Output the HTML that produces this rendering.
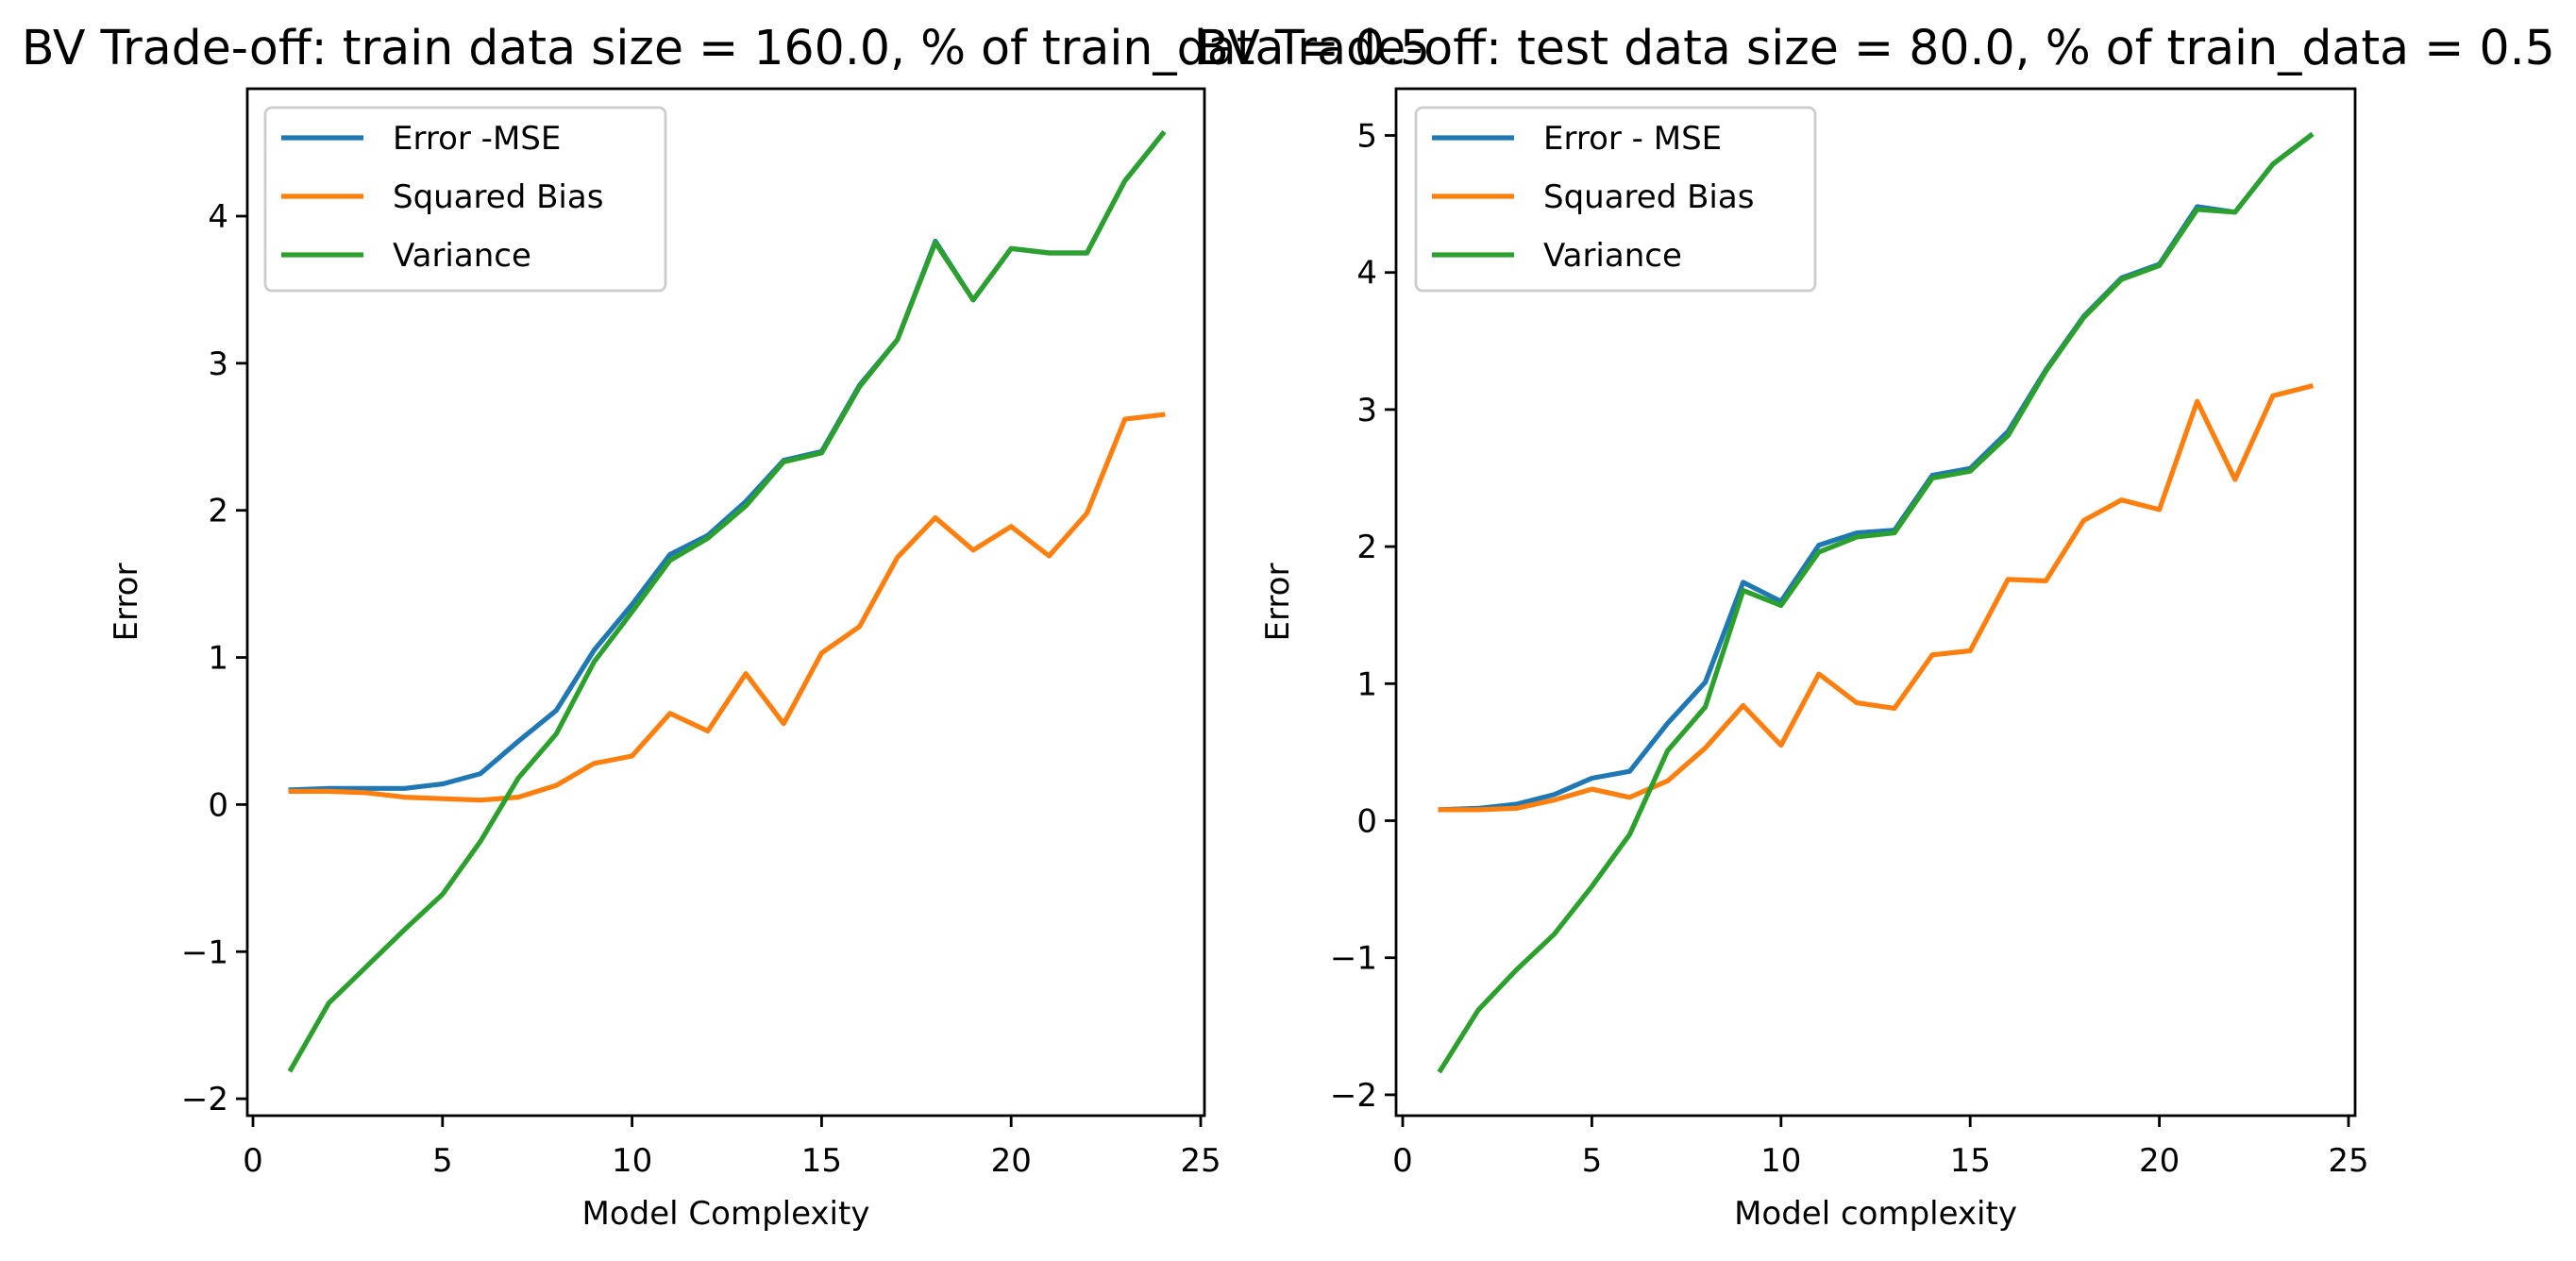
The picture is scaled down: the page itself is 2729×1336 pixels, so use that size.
<!DOCTYPE html>
<html><head><meta charset="utf-8"><style>
html,body{margin:0;padding:0;background:#fff;}
svg{display:block;font-family:"DejaVu Sans","Liberation Sans",sans-serif;}
</style></head><body>
<svg id="fig" width="2729" height="1336" viewBox="0 0 2729 1336" xmlns="http://www.w3.org/2000/svg">
<rect width="2729" height="1336" fill="#fff"/>
</svg>
<script>
const xs = [1,2,3,4,5,6,7,8,9,10,11,12,13,14,15,16,17,18,19,20,21,22,23,24];
const leftMse = [0.10,0.11,0.11,0.11,0.14,0.21,0.43,0.64,1.05,1.36,1.70,1.83,2.06,2.34,2.40,2.85,3.16,3.83,3.43,3.78,3.75,3.75,4.24,4.56];
const leftBias = [0.09,0.09,0.08,0.05,0.04,0.03,0.05,0.13,0.28,0.33,0.62,0.50,0.89,0.55,1.03,1.21,1.68,1.95,1.73,1.89,1.69,1.98,2.62,2.65];
const leftVar = [-1.80,-1.35,-1.10,-0.85,-0.61,-0.25,0.18,0.48,0.97,1.31,1.66,1.81,2.03,2.33,2.39,2.84,3.16,3.82,3.43,3.78,3.75,3.75,4.24,4.56];
const rightMse = [0.08,0.09,0.12,0.19,0.31,0.36,0.71,1.01,1.74,1.60,2.01,2.10,2.12,2.52,2.57,2.84,3.29,3.68,3.96,4.06,4.48,4.44,4.79,5.00];
const rightBias = [0.08,0.08,0.09,0.15,0.23,0.17,0.29,0.53,0.84,0.55,1.07,0.86,0.82,1.21,1.24,1.76,1.75,2.19,2.34,2.27,3.06,2.49,3.10,3.17];
const rightVar = [-1.82,-1.38,-1.09,-0.83,-0.48,-0.10,0.51,0.83,1.68,1.57,1.96,2.07,2.10,2.50,2.55,2.81,3.28,3.67,3.95,4.05,4.46,4.44,4.79,5.00];
const xTicks = [0,5,10,15,20,25];
const leftYTicks = [-2,-1,0,1,2,3,4];
const rightYTicks = [-2,-1,0,1,2,3,4,5];
const leftLegend = ["Error -MSE","Squared Bias","Variance"];
const rightLegend = ["Error - MSE","Squared Bias","Variance"];

const NS="http://www.w3.org/2000/svg";
const svg=document.getElementById('fig');
function mk(tag,attrs,parent){const e=document.createElementNS(NS,tag);for(const k in attrs)e.setAttribute(k,attrs[k]);(parent||svg).appendChild(e);return e;}
const colors=['#1f77b4','#ff7f0e','#2ca02c'];

function panel(p){
  const g=mk('g',{});
  
  
  const sx=v=>p.x0+v*p.xu;
  const sy=v=>p.y0-v*p.yu;
  const series=[p.mse,p.bias,p.var];
  const snames=['mse-line','bias-line','variance-line'];
  series.forEach((s,i)=>{
    const d=s.map((v,j)=>(j?'L':'M')+sx(xs[j]).toFixed(1)+','+sy(v).toFixed(1)).join('');
    const path=mk('path',{d:d,fill:'none',stroke:colors[i],'stroke-width':5.2,'stroke-linejoin':'round','stroke-linecap':'square'},g);
    
    
  });
  const fr=mk('rect',{x:p.L,y:p.T,width:p.R-p.L,height:p.B-p.T,fill:'none',stroke:'#000','stroke-width':2.8},g);
  
  
  xTicks.forEach(t=>{
    const x=sx(t);
    mk('line',{x1:x,x2:x,y1:p.B,y2:p.B+12,stroke:'#000','stroke-width':2.8},g);
    const tx=mk('text',{x:x,y:p.B+59,'font-size':34,'text-anchor':'middle',fill:'#000'},g);
    tx.textContent=String(t);
    
    
  });
  p.yt.forEach(t=>{
    const y=sy(t);
    mk('line',{x1:p.L-12,x2:p.L,y1:y,y2:y,stroke:'#000','stroke-width':2.8},g);
    const tx=mk('text',{x:p.L-20,y:y+12,'font-size':34,'text-anchor':'end',fill:'#000'},g);
    tx.textContent=(t<0?'\u2212':'')+Math.abs(t);
    
    
  });
  const xl=mk('text',{x:(p.L+p.R)/2,y:1297,'font-size':34,'text-anchor':'middle',fill:'#000'},g);
  xl.textContent=p.xlabel;
  
  
  const yl=mk('text',{x:0,y:0,'font-size':34,'text-anchor':'middle',fill:'#000',transform:`translate(${p.ylx},${(p.T+p.B)/2}) rotate(-90)`},g);
  yl.textContent='Error';
  
  
  const ti=mk('text',{x:(p.L+p.R)/2,y:68,'font-size':50.5,'text-anchor':'middle',fill:'#000'},g);
  ti.textContent=p.title;
  
  
  const lg=mk('g',{},g);
  
  
  mk('rect',{x:p.lgx,y:114,width:p.lgw,height:194,rx:7,fill:'#fff','fill-opacity':0.8,stroke:'#ccc','stroke-width':2.8},lg);
  p.legend.forEach((n,i)=>{
    const y=146+i*62;
    mk('line',{x1:p.lgx+17,x2:p.lgx+104,y1:y,y2:y,stroke:colors[i],'stroke-width':5.2},lg);
    const tx=mk('text',{x:p.lgx+135,y:y+12,'font-size':34,fill:'#000'},lg);
    tx.textContent=n;
    
    
  });
}
panel({name:'left-chart',L:262,R:1276,T:94,B:1182,x0:268,xu:40.16,y0:852.4,yu:155.85,yt:leftYTicks,
  mse:leftMse,bias:leftBias,var:leftVar,xlabel:'Model Complexity',ylx:145,lgx:281,lgw:424,legend:leftLegend,
  title:'BV Trade-off: train data size = 160.0, % of train_data = 0.5'});
panel({name:'right-chart',L:1479,R:2495,T:94,B:1182,x0:1486,xu:40.08,y0:869.5,yu:145.2,yt:rightYTicks,
  mse:rightMse,bias:rightBias,var:rightVar,xlabel:'Model complexity',ylx:1365,lgx:1500,lgw:423,legend:rightLegend,
  title:'BV Trade-off: test data size = 80.0, % of train_data = 0.5'});
</script>
</body></html>
